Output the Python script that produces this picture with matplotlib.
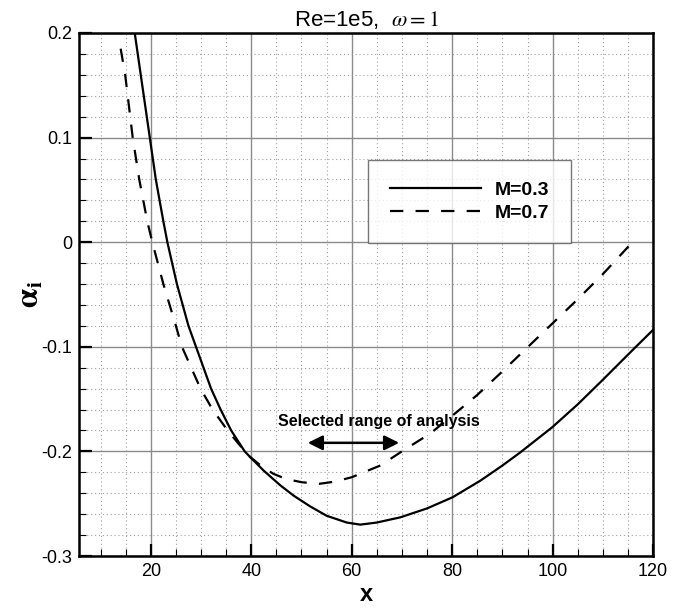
import numpy as np
import matplotlib
matplotlib.use("Agg")
import matplotlib.pyplot as plt
from matplotlib.ticker import MultipleLocator, FixedLocator, FixedFormatter

plt.rcParams['font.family'] = ['Liberation Sans', 'DejaVu Sans']
plt.rcParams['mathtext.fontset'] = 'stix'

# M=0.3 (solid)
x_m03 = [16.8, 18.0, 19.2, 19.8, 21.0, 22.5, 23.3, 25.2, 27.5, 29.0, 32.0, 33.9, 36.0,
         38.7, 39.7, 42.5, 45.8, 48.5, 51.7, 55.0, 59.0, 61.7, 65.0, 69.7, 75.0, 80.1,
         85.6, 90.0, 93.6, 99.9, 105.0, 110.0, 115.0, 120.0]
y_m03 = [0.2, 0.16, 0.12, 0.1, 0.06, 0.02, 0.0, -0.04, -0.08, -0.1, -0.14, -0.16, -0.18,
         -0.2, -0.205, -0.2185, -0.2325, -0.2425, -0.2525, -0.2615, -0.268, -0.270, -0.268,
         -0.263, -0.2545, -0.2438, -0.228, -0.2135, -0.2008, -0.177, -0.155, -0.1315,
         -0.1075, -0.0838]

# M=0.7 (dashed)
x_m07 = [14.0, 14.9, 15.9, 16.4, 17.7, 19.3, 20.3, 22.5, 25.0, 26.2, 29.9, 32.3, 35.3,
         37.7, 39.7, 42.0, 44.4, 47.0, 50.1, 53.5, 56.5, 60.0, 65.7, 70.3, 75.6, 80.0,
         85.0, 90.0, 95.0, 100.0, 105.0, 110.0, 115.5]
y_m07 = [0.185, 0.16, 0.12, 0.1, 0.06, 0.02, 0.0, -0.04, -0.08, -0.1, -0.14, -0.16, -0.18,
         -0.194, -0.205, -0.214, -0.2214, -0.2265, -0.2295, -0.231, -0.229, -0.2247, -0.2135,
         -0.199, -0.183, -0.166, -0.146, -0.1235, -0.1005, -0.0775, -0.0545, -0.0305, -0.002]

y_ticks = [-0.3, -0.2, -0.1, 0.0, 0.1, 0.2]
y_labels = ['-0.3', '-0.2', '-0.1', '0', '0.1', '0.2']
x_ticks = [20, 40, 60, 80, 100, 120]

fig = plt.figure(figsize=(6.97, 6.11), dpi=100)
ax = fig.add_axes([0.1133, 0.09, 0.8237, 0.856])

ax.plot(x_m03, y_m03, color='black', lw=1.6, label='M=0.3')
ax.plot(x_m07, y_m07, color='black', lw=1.6, dashes=(6, 5.5), label='M=0.7')

ax.set_xlim(5.7, 120)
ax.set_ylim(-0.3, 0.2)
ax.xaxis.set_major_locator(FixedLocator(x_ticks))
ax.xaxis.set_minor_locator(MultipleLocator(5))
ax.yaxis.set_major_locator(FixedLocator(y_ticks))
ax.yaxis.set_major_formatter(FixedFormatter(y_labels))
ax.yaxis.set_minor_locator(MultipleLocator(0.02))

ax.grid(which='major', color='#8a8a8a', lw=1.0, ls='-')
ax.grid(which='minor', color='#a0a0a0', lw=0.8, ls=(0, (1, 2.5)))
ax.set_axisbelow(True)

ax.tick_params(which='major', direction='in', length=9, width=1.6, labelsize=13, pad=5)
ax.tick_params(which='minor', direction='in', length=5, width=0.8)
for s in ax.spines.values():
    s.set_linewidth(1.8)

ax.set_title(r'Re=1e5,  $\omega = 1$', fontsize=16, pad=5)
ax.set_xlabel('x', fontsize=17, fontweight='bold', labelpad=2)
ax.set_ylabel(r'$\mathbf{\alpha_i}$', fontsize=22, labelpad=-3)

leg = ax.legend(loc='upper left', bbox_to_anchor=(0.504, 0.757), frameon=True, fancybox=False,
                edgecolor='#555555', fontsize=14, handlelength=4.7, borderpad=1.1,
                labelspacing=0.25, handletextpad=0.7, borderaxespad=0)
leg.get_frame().set_linewidth(1.0)
for t in leg.get_texts():
    t.set_fontweight('bold')

ax.annotate('', xy=(50.7, -0.1918), xytext=(70.0, -0.1918),
            arrowprops=dict(arrowstyle='<|-|>', color='black', lw=1.8, mutation_scale=22))
ax.text(65.5, -0.1714, 'Selected range of analysis', fontsize=11.5, fontweight='bold',
        ha='center', va='center')

fig.savefig('out.png', dpi=100)
